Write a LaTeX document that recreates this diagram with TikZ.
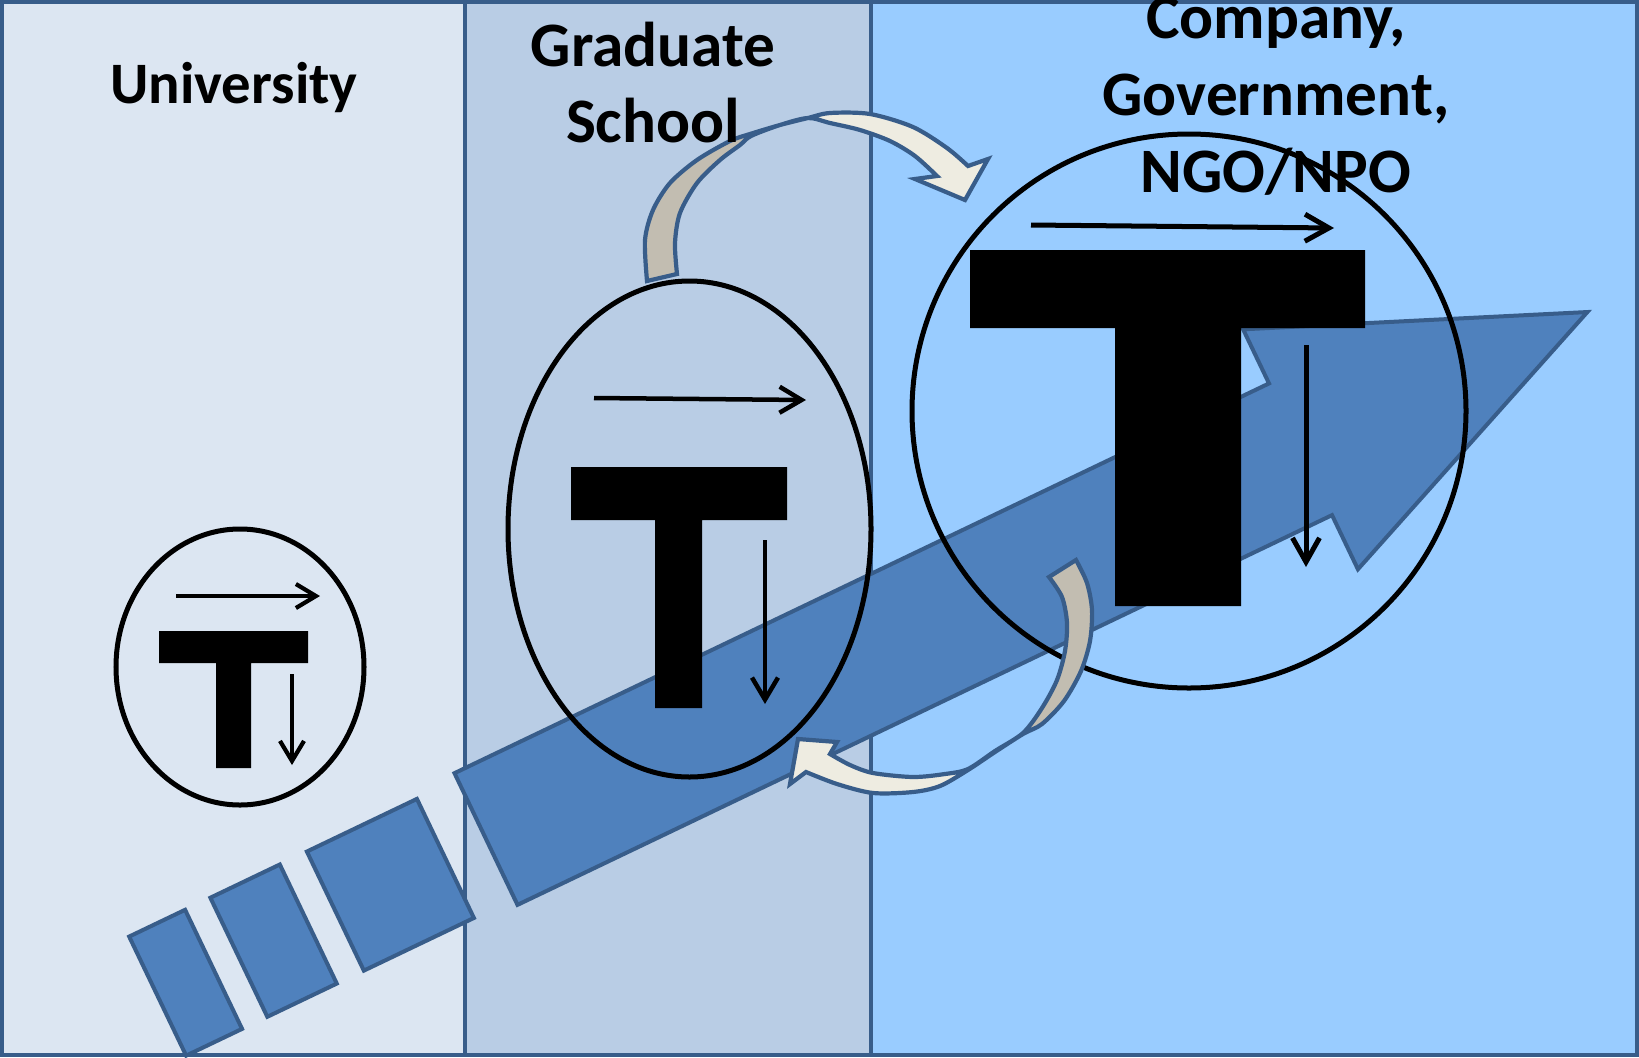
\documentclass[tikz,border=0pt]{standalone}
\usepackage{fontspec}
\setmainfont{Carlito}
\usetikzlibrary{arrows.meta}
\definecolor{panelA}{HTML}{DCE6F2}
\definecolor{panelB}{HTML}{B9CDE5}
\definecolor{panelC}{HTML}{99CCFF}
\definecolor{edgeblue}{HTML}{385D8A}
\definecolor{arrowblue}{HTML}{4F81BD}
\definecolor{ribbonlight}{HTML}{EEECE1}
\definecolor{ribbondark}{HTML}{C2BDB1}
\begin{document}
\begin{tikzpicture}[x=0.01cm, y=-0.01cm,
  panelline/.style={draw=edgeblue, line width=0.045cm},
  bigarrow/.style={fill=arrowblue, draw=edgeblue, line width=0.04cm, line join=miter},
  ring/.style={draw=black, line width=0.05cm},
  tee/.style={fill=black},
  vecS/.style={draw=black, line width=0.042cm, -{Straight Barb[length=0.2cm,width=0.24cm]}},
  vecM/.style={draw=black, line width=0.045cm, -{Straight Barb[length=0.22cm,width=0.26cm]}},
  vecL/.style={draw=black, line width=0.05cm, -{Straight Barb[length=0.24cm,width=0.27cm]}},
  ribbon/.style={draw=edgeblue, line width=0.042cm, line join=miter},
  label/.style={font=\fontsize{18}{22}\selectfont\bfseries, inner sep=0pt, anchor=base}]
\useasboundingbox (0,0) rectangle (1639,1057);
\begin{scope}
\clip (0,0) rectangle (1639,1057);
% panels
\fill[panelA] (0,0) rectangle (465,1057);
\fill[panelB] (465,0) rectangle (871,1057);
\fill[panelC] (871,0) rectangle (1639,1057);
\draw[panelline] (2,2) rectangle (1637,1055);
\draw[panelline] (465,0) -- (465,1057);
\draw[panelline] (871,0) -- (871,1057);
% big arrow
\begin{scope}[shift={(486,839)}, rotate=25.57]
  \draw[bigarrow] (0,-73) -- (903,-73) -- (903,-133) -- (1221,0) -- (903,133) -- (903,73) -- (0,73) -- cycle;
  \draw[bigarrow] (-167,-66) rectangle (-45,66);
  \draw[bigarrow] (-274,-66) rectangle (-197,66);
  \draw[bigarrow] (-364,-66) rectangle (-302,66);
\end{scope}
% ellipses
\draw[ring] (240,667) ellipse [x radius=124, y radius=138];
\draw[ring] (689.5,529) ellipse [x radius=181.5, y radius=248];
\draw[ring] (1189,411) circle [radius=277];
% T shapes
\fill[tee] (159,631) -- (308,631) -- (308,663) -- (251,663) -- (251,768) -- (216,768) -- (216,663) -- (159,663) -- cycle;
\fill[tee] (571,467) -- (787,467) -- (787,520) -- (702,520) -- (702,708) -- (655,708) -- (655,520) -- (571,520) -- cycle;
\fill[tee] (970,250) -- (1365,250) -- (1365,328) -- (1241,328) -- (1241,606) -- (1115,606) -- (1115,328) -- (970,328) -- cycle;
% small arrows
\draw[vecS] (176,596) -- (320,596);
\draw[vecS] (292,674) -- (292,765);
\draw[vecM] (594,398) -- (806,400);
\draw[vecM] (765,540) -- (765,704);
\draw[vecL] (1031,225) -- (1334,228);
\draw[vecL] (1306,345) -- (1306,567);
% upper curved arrow
\fill[ribbonlight] plot[smooth] coordinates {(647,281) (645,240) (653,210) (670,183) (697,160) (730,141) (750,134) (780,125) (808,118) (830,113) (870,114) (913,127) (947,148) (968,166)} -- (988,159) -- (965,200) -- (915,179) -- (937,176) -- plot[smooth] coordinates {(937,176) (915,156) (890,141) (860,130) (830,123) (808,118) (780,125) (751,136) (740,145) (720,160) (697,183) (680,213) (675,243) (677,274)} -- cycle;
\fill[ribbondark] plot[smooth] coordinates {(647,281) (645,240) (653,210) (670,183) (697,160) (730,141) (750,135)} -- plot[smooth] coordinates {(750,135) (740,145) (720,160) (697,183) (680,213) (675,243) (677,274)} -- cycle;
\draw[ribbon] plot[smooth] coordinates {(647,281) (645,240) (653,210) (670,183) (697,160) (730,141) (750,134) (780,125) (808,118) (830,113) (870,114) (913,127) (947,148) (968,166)} -- (988,159) -- (965,200) -- (915,179) -- (937,176) -- plot[smooth] coordinates {(937,176) (915,156) (890,141) (860,130) (830,123) (808,118) (780,125) (751,136) (740,145) (720,160) (697,183) (680,213) (675,243) (677,274)} -- cycle;
% lower curved arrow
\fill[ribbonlight] plot[smooth] coordinates {(1076,560) (1087,583) (1092,610) (1090,641) (1081,671) (1064,701) (1042,724) (1023,734) (995,752) (968,770) (940,786) (913,792) (873,793) (837,784) (806,772)} -- (790,784) -- (798,739) -- (837,742) -- (830,754) -- plot[smooth] coordinates {(830,754) (850,765) (873,773) (913,777) (945,774) (968,769) (995,751) (1023,733) (1042,708) (1057,680) (1065,651) (1067,623) (1062,597) (1049,577)} -- cycle;
\fill[ribbondark] plot[smooth] coordinates {(1076,560) (1087,583) (1092,610) (1090,641) (1081,671) (1064,701) (1042,724) (1023,734)} -- plot[smooth] coordinates {(1023,733) (1042,708) (1057,680) (1065,651) (1067,623) (1062,597) (1049,577)} -- cycle;
\draw[ribbon] plot[smooth] coordinates {(1076,560) (1087,583) (1092,610) (1090,641) (1081,671) (1064,701) (1042,724) (1023,734) (995,752) (968,770) (940,786) (913,792) (873,793) (837,784) (806,772)} -- (790,784) -- (798,739) -- (837,742) -- (830,754) -- plot[smooth] coordinates {(830,754) (850,765) (873,773) (913,777) (945,774) (968,769) (995,751) (1023,733) (1042,708) (1057,680) (1065,651) (1067,623) (1062,597) (1049,577)} -- cycle;
% labels
\node[label, font=\fontsize{16.7}{20}\selectfont\bfseries] (uni) at (234,103) {University};
\node[label] (grad1) at (653,66) {Graduate};
\node[label] (grad2) at (653,142) {School};
\node[label] (co1) at (1276,38) {Company,};
\node[label] (co2) at (1276,115) {Government,};
\node[label] (co3) at (1276,192) {NGO/NPO};
\end{scope}
\end{tikzpicture}
\end{document}
